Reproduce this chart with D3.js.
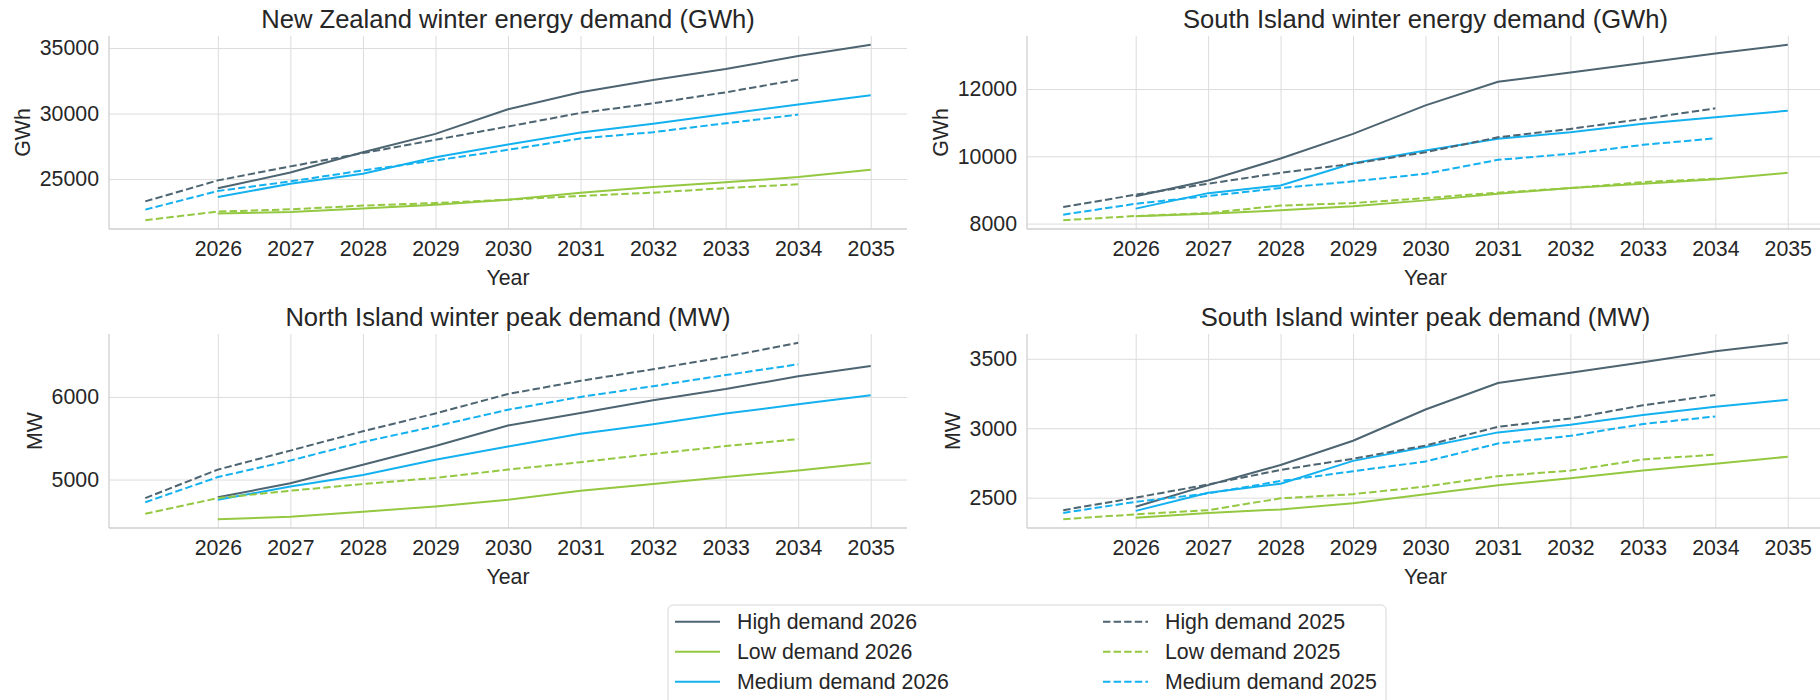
<!DOCTYPE html>
<html>
<head>
<meta charset="utf-8">
<script src="https://cdn.jsdelivr.net/npm/d3@7"></script>
<style>
  body { margin: 0; background: #fff; }
  svg { display: block; font-family: "Liberation Sans", Arial, sans-serif; }
  .grid line { stroke: #dcdcdc; stroke-width: 1; }
  .grid path { display: none; }
  .ticks path { display: none; }
  .ticks text { font-size: 21.3px; fill: #262626; font-family: "Liberation Sans", Arial, sans-serif; }
</style>
</head>
<body>
<div id="chart"></div>
<script>
// Data
const years2026 = [2026, 2027, 2028, 2029, 2030, 2031, 2032, 2033, 2034, 2035];
const years2025 = [2025, 2026, 2027, 2028, 2029, 2030, 2031, 2032, 2033, 2034];
const xTicks = [2026, 2027, 2028, 2029, 2030, 2031, 2032, 2033, 2034, 2035];

// New Zealand winter energy (GWh)
const nzHigh26 = [24300, 25500, 27050, 28450, 30330, 31620, 32560, 33400, 34390, 35250];
const nzLow26  = [22370, 22490, 22750, 23050, 23430, 23965, 24390, 24750, 25150, 25715];
const nzMed26  = [23630, 24650, 25410, 26670, 27640, 28550, 29215, 29975, 30685, 31390];
const nzHigh25 = [23300, 24900, 25970, 26980, 28000, 29010, 30050, 30780, 31620, 32590];
const nzLow25  = [21860, 22520, 22690, 22975, 23175, 23430, 23710, 23965, 24315, 24600];
const nzMed25  = [22670, 24090, 24825, 25660, 26420, 27235, 28100, 28580, 29260, 29920];

// South Island winter energy (GWh)
const siHigh26 = [8810, 9280, 9935, 10665, 11515, 12215, 12490, 12770, 13055, 13315];
const siLow26  = [8215, 8295, 8395, 8515, 8690, 8890, 9055, 9185, 9315, 9510];
const siMed26  = [8445, 8905, 9135, 9795, 10170, 10520, 10715, 10965, 11160, 11355];
const siHigh25 = [8490, 8860, 9185, 9510, 9780, 10120, 10565, 10815, 11110, 11425];
const siLow25  = [8100, 8225, 8315, 8535, 8610, 8760, 8920, 9055, 9235, 9335];
const siMed25  = [8265, 8590, 8820, 9055, 9255, 9480, 9895, 10075, 10340, 10535];

// North Island winter peak (MW)
const niHigh26 = [4785, 4955, 5180, 5405, 5655, 5805, 5960, 6095, 6250, 6375];
const niLow26  = [4520, 4550, 4610, 4675, 4755, 4865, 4945, 5030, 5110, 5200];
const niMed26  = [4755, 4915, 5055, 5240, 5400, 5555, 5670, 5800, 5910, 6020];
const niHigh25 = [4775, 5120, 5350, 5585, 5800, 6035, 6195, 6335, 6485, 6655];
const niLow25  = [4585, 4775, 4865, 4945, 5020, 5120, 5210, 5310, 5405, 5490];
const niMed25  = [4725, 5030, 5230, 5455, 5645, 5845, 6000, 6130, 6265, 6395];

// South Island winter peak (MW)
const spHigh26 = [2435, 2590, 2735, 2910, 3135, 3325, 3400, 3475, 3555, 3615];
const spLow26  = [2355, 2390, 2415, 2460, 2525, 2590, 2640, 2695, 2745, 2795];
const spMed26  = [2405, 2535, 2600, 2765, 2865, 2970, 3025, 3095, 3155, 3205];
const spHigh25 = [2410, 2500, 2595, 2700, 2780, 2875, 3010, 3070, 3165, 3240];
const spLow25  = [2345, 2380, 2410, 2495, 2525, 2580, 2655, 2695, 2775, 2810];
const spMed25  = [2390, 2470, 2530, 2620, 2690, 2760, 2890, 2945, 3030, 3085];

const panelTitles = [
  "New Zealand winter energy demand (GWh)",
  "South Island winter energy demand (GWh)",
  "North Island winter peak demand (MW)",
  "South Island winter peak demand (MW)"
];
const yLabels = ["GWh", "GWh", "MW", "MW"];
const yTicks = [
  [25000, 30000, 35000],
  [8000, 10000, 12000],
  [5000, 6000],
  [2500, 3000, 3500]
];
const seriesNames = ["High demand 2026", "Low demand 2026", "Medium demand 2026",
                     "High demand 2025", "Low demand 2025", "Medium demand 2025"];
const panelValues = [
  [nzHigh26, nzLow26, nzMed26, nzHigh25, nzLow25, nzMed25],
  [siHigh26, siLow26, siMed26, siHigh25, siLow25, siMed25],
  [niHigh26, niLow26, niMed26, niHigh25, niLow25, niMed25],
  [spHigh26, spLow26, spMed26, spHigh25, spLow25, spMed25]
];

// Styles
const colors = { High: "#4d6471", Low: "#94c841", Medium: "#13b1ef" };
const textColor = "#262626";
const W = 1820, H = 700;

// Panel boxes
const boxes = [
  {left: 109, right: 907, top: 36, bottom: 229},
  {left: 1027, right: 1824, top: 36, bottom: 229},
  {left: 109, right: 907, top: 334, bottom: 528},
  {left: 1027, right: 1824, top: 334, bottom: 528}
];

const svg = d3.select("#chart").append("svg")
    .attr("width", W)
    .attr("height", H);

svg.append("rect").attr("width", W).attr("height", H).attr("fill", "#fff");

const allYears = years2025.concat(years2026);
const xExt = d3.extent(allYears);
const xPad = (xExt[1] - xExt[0]) * 0.05;

boxes.forEach((b, p) => {
  const w = b.right - b.left, h = b.bottom - b.top;
  const g = svg.append("g").attr("transform", `translate(${b.left},${b.top})`);

  const x = d3.scaleLinear().domain([xExt[0] - xPad, xExt[1] + xPad]).range([0, w]);
  const vals = panelValues[p].flat();
  const yExt = d3.extent(vals);
  const yPad = (yExt[1] - yExt[0]) * 0.05;
  const y = d3.scaleLinear().domain([yExt[0] - yPad, yExt[1] + yPad]).range([h, 0]);

  // Gridlines
  g.append("g").attr("class", "grid")
      .attr("transform", `translate(0,${h})`)
      .call(d3.axisBottom(x).tickValues(xTicks).tickSize(-h).tickFormat(""));
  g.append("g").attr("class", "grid")
      .call(d3.axisLeft(y).tickValues(yTicks[p]).tickSize(-w).tickFormat(""));

  // Spines (left, bottom)
  g.append("line").attr("x1", 0).attr("x2", 0).attr("y1", 0).attr("y2", h)
      .attr("stroke", "#cfcfcf").attr("stroke-width", 1.3);
  g.append("line").attr("x1", 0).attr("x2", w).attr("y1", h).attr("y2", h)
      .attr("stroke", "#cfcfcf").attr("stroke-width", 1.3);

  // Tick labels
  g.append("g").attr("class", "ticks")
      .attr("transform", `translate(0,${h})`)
      .call(d3.axisBottom(x).tickValues(xTicks).tickSize(0).tickPadding(12).tickFormat(d3.format("d")));
  const yAxis = g.append("g").attr("class", "ticks")
      .call(d3.axisLeft(y).tickValues(yTicks[p]).tickSize(0).tickPadding(10).tickFormat(d3.format("d")));

  let maxW = 0;
  yAxis.selectAll("text").each(function() { maxW = Math.max(maxW, this.getComputedTextLength()); });

  // Lines
  const line = d3.line().x(d => x(d[0])).y(d => y(d[1]));
  seriesNames.forEach((name, i) => {
    const level = name.split(" ")[0];
    const yrs = name.endsWith("2026") ? years2026 : years2025;
    const pts = yrs.map((yr, k) => [yr, panelValues[p][i][k]]);
    g.append("path")
        .datum(pts)
        .attr("fill", "none")
        .attr("stroke", colors[level])
        .attr("stroke-width", 2)
        .attr("stroke-dasharray", name.endsWith("2025") ? "7.4,3.2" : null)
        .attr("d", line);
  });

  // Title
  g.append("text")
      .attr("x", w / 2).attr("y", -8)
      .attr("text-anchor", "middle")
      .attr("fill", textColor)
      .style("font-size", "25.6px")
      .text(panelTitles[p]);

  // X label
  g.append("text")
      .attr("x", w / 2).attr("y", h + 56)
      .attr("text-anchor", "middle")
      .attr("fill", textColor)
      .style("font-size", "21.3px")
      .text("Year");

  // Y label
  g.append("text")
      .attr("transform", `translate(${-10 - maxW - 17.5},${h / 2}) rotate(-90)`)
      .attr("text-anchor", "middle")
      .attr("dy", "0.35em")
      .attr("fill", textColor)
      .style("font-size", "21.3px")
      .text(yLabels[p]);
});

// Legend
const legend = svg.append("g");
legend.append("rect")
    .attr("x", 668).attr("y", 605)
    .attr("width", 718).attr("height", 110)
    .attr("rx", 5)
    .attr("fill", "#fff")
    .attr("stroke", "#d6d6d6");

seriesNames.forEach((name, i) => {
  const col = Math.floor(i / 3), row = i % 3;
  const lx = col === 0 ? 675 : 1103;
  const ly = 621.7 + row * 30;
  const level = name.split(" ")[0];
  legend.append("line")
      .attr("x1", lx).attr("x2", lx + 45)
      .attr("y1", ly).attr("y2", ly)
      .attr("stroke", colors[level])
      .attr("stroke-width", 2)
      .attr("stroke-dasharray", col === 1 ? "7.4,3.2" : null);
  legend.append("text")
      .attr("x", lx + 62).attr("y", ly + 7)
      .attr("fill", textColor)
      .style("font-size", "21.3px")
      .text(name);
});
</script>
</body>
</html>
